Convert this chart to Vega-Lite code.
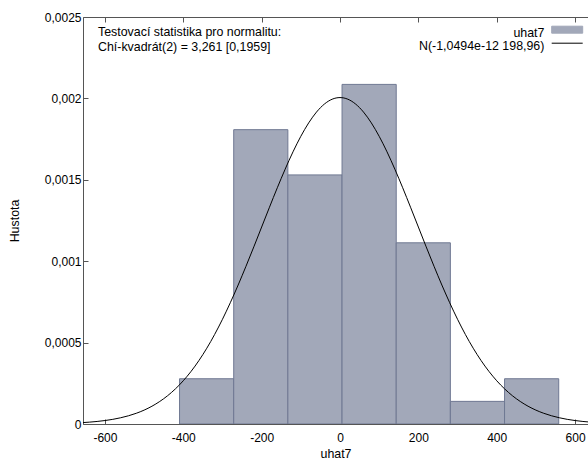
{
  "$schema": "https://vega.github.io/schema/vega-lite/v6.json",
  "width": 505,
  "height": 407,
  "autosize": {"type": "none"},
  "padding": {"left": 83, "top": 17, "right": 0, "bottom": 37},
  "config": {
    "view": {"stroke": null},
    "font": "Liberation Sans",
    "axis": {
      "domainColor": "#555555",
      "tickColor": "#555555",
      "labelColor": "#000000",
      "titleColor": "#000000",
      "labelFont": "Liberation Sans",
      "titleFont": "Liberation Sans",
      "labelFontSize": 12,
      "titleFontSize": 12.4,
      "titleFontWeight": "normal",
      "grid": false,
      "tickSize": -5
    }
  },
  "title": {
    "text": ["Testovací statistika pro normalitu:", "Chí-kvadrát(2) = 3,261 [0,1959]"],
    "anchor": "start",
    "frame": "group",
    "baseline": "top",
    "offset": -9,
    "dx": 15,
    "dy": 33.5,
    "fontSize": 12.4,
    "fontWeight": "normal",
    "font": "Liberation Sans",
    "color": "#000000",
    "lineHeight": 15.5
  },
  "datasets": {
    "bins": [
      {"lo": -409.6, "hi": -271.3, "density": 0.000278},
      {"lo": -271.3, "hi": -133.1, "density": 0.001808},
      {"lo": -133.1, "hi": 5.2, "density": 0.00153},
      {"lo": 5.2, "hi": 143.5, "density": 0.002086},
      {"lo": 143.5, "hi": 281.7, "density": 0.001113},
      {"lo": 281.7, "hi": 420.0, "density": 0.000139},
      {"lo": 420.0, "hi": 558.3, "density": 0.000278}
    ],
    "curve": [
      {"x": -660, "y": 0.0000082},
      {"x": -640, "y": 0.0000114},
      {"x": -620, "y": 0.0000156},
      {"x": -600, "y": 0.0000213},
      {"x": -580, "y": 0.0000286},
      {"x": -560, "y": 0.0000382},
      {"x": -540, "y": 0.0000504},
      {"x": -520, "y": 0.0000659},
      {"x": -500, "y": 0.0000852},
      {"x": -480, "y": 0.0001092},
      {"x": -460, "y": 0.0001385},
      {"x": -440, "y": 0.0001738},
      {"x": -420, "y": 0.0002160},
      {"x": -400, "y": 0.0002657},
      {"x": -380, "y": 0.0003236},
      {"x": -360, "y": 0.0003901},
      {"x": -340, "y": 0.0004655},
      {"x": -320, "y": 0.0005500},
      {"x": -300, "y": 0.0006433},
      {"x": -280, "y": 0.0007449},
      {"x": -260, "y": 0.0008537},
      {"x": -240, "y": 0.0009687},
      {"x": -220, "y": 0.0010880},
      {"x": -200, "y": 0.0012099},
      {"x": -180, "y": 0.0013317},
      {"x": -160, "y": 0.0014511},
      {"x": -140, "y": 0.0015654},
      {"x": -120, "y": 0.0016717},
      {"x": -100, "y": 0.0017672},
      {"x": -80, "y": 0.0018494},
      {"x": -60, "y": 0.0019160},
      {"x": -40, "y": 0.0019650},
      {"x": -20, "y": 0.0019950},
      {"x": 0, "y": 0.0020051},
      {"x": 20, "y": 0.0019950},
      {"x": 40, "y": 0.0019650},
      {"x": 60, "y": 0.0019160},
      {"x": 80, "y": 0.0018494},
      {"x": 100, "y": 0.0017672},
      {"x": 120, "y": 0.0016717},
      {"x": 140, "y": 0.0015654},
      {"x": 160, "y": 0.0014511},
      {"x": 180, "y": 0.0013317},
      {"x": 200, "y": 0.0012099},
      {"x": 220, "y": 0.0010880},
      {"x": 240, "y": 0.0009687},
      {"x": 260, "y": 0.0008537},
      {"x": 280, "y": 0.0007449},
      {"x": 300, "y": 0.0006433},
      {"x": 320, "y": 0.0005500},
      {"x": 340, "y": 0.0004655},
      {"x": 360, "y": 0.0003901},
      {"x": 380, "y": 0.0003236},
      {"x": 400, "y": 0.0002657},
      {"x": 420, "y": 0.0002160},
      {"x": 440, "y": 0.0001738},
      {"x": 460, "y": 0.0001385},
      {"x": 480, "y": 0.0001092},
      {"x": 500, "y": 0.0000852},
      {"x": 520, "y": 0.0000659},
      {"x": 540, "y": 0.0000504},
      {"x": 560, "y": 0.0000382},
      {"x": 580, "y": 0.0000286},
      {"x": 600, "y": 0.0000213},
      {"x": 620, "y": 0.0000156},
      {"x": 640, "y": 0.0000114},
      {"x": 660, "y": 0.0000082}
    ]
  },
  "layer": [
    {
      "data": {"name": "bins"},
      "mark": {"type": "rect", "stroke": "#6f7892", "strokeWidth": 1, "clip": true},
      "encoding": {
        "x": {
          "field": "lo", "type": "quantitative",
          "scale": {"domain": [-656, 633], "nice": false, "zero": false},
          "axis": {
            "orient": "bottom",
            "values": [-600, -400, -200, 0, 200, 400, 600],
            "labelExpr": "replace(datum.value + '', '.', ',')",
            "labelPadding": 13,
            "title": "uhat7",
            "titlePadding": 4
          }
        },
        "x2": {"field": "hi"},
        "y": {
          "field": "density", "type": "quantitative",
          "scale": {"domain": [0, 0.0025], "nice": false},
          "axis": {
            "values": [0, 0.0005, 0.001, 0.0015, 0.002, 0.0025],
            "labelExpr": "replace(datum.value + '', '.', ',')",
            "labelPadding": 7,
            "title": "Hustota",
            "titlePadding": 23
          }
        },
        "y2": {"datum": 0},
        "color": {
          "datum": "uhat7",
          "type": "nominal",
          "scale": {"domain": ["uhat7", "N(-1,0494e-12 198,96)"], "range": ["#a2a8b9", "#000000"]},
          "legend": {
            "title": null,
            "orient": "none",
            "legendX": 478,
            "legendY": 9.5,
            "padding": 0,
            "rowPadding": -7,
            "labelAlign": "right",
            "labelOffset": -29,
            "labelFontSize": 12.4,
            "labelFont": "Liberation Sans",
            "labelColor": "#000000",
            "symbolOffset": 0,
            "symbolSize": 100,
            "encode": {
              "symbols": {
                "update": {
                  "shape": {"signal": "datum.value === 'uhat7' ? 'M-3.1,-1.3H3.1V0.1H-3.1Z' : 'M-3.1,-0.5H3.1'"},
                  "size": {"value": 100},
                  "fill": {"signal": "datum.value === 'uhat7' ? '#a2a8b9' : 'transparent'"},
                  "stroke": {"signal": "datum.value === 'uhat7' ? '#6f7892' : '#000000'"},
                  "strokeWidth": {"value": 1},
                  "opacity": {"value": 1},
                  "fillOpacity": {"value": 1}
                }
              }
            }
          }
        }
      }
    },
    {
      "data": {"name": "curve"},
      "mark": {"type": "line", "strokeWidth": 1, "interpolate": "monotone", "clip": true},
      "encoding": {
        "x": {
          "field": "x", "type": "quantitative",
          "axis": {
            "orient": "top",
            "values": [-600, -400, -200, 0, 200, 400, 600],
            "labels": false,
            "title": null
          }
        },
        "y": {"field": "y", "type": "quantitative"},
        "color": {
          "datum": "N(-1,0494e-12 198,96)",
          "type": "nominal",
          "legend": {
            "title": null,
            "orient": "none",
            "legendX": 478,
            "legendY": 9.5,
            "padding": 0,
            "rowPadding": -7,
            "labelAlign": "right",
            "labelOffset": -29,
            "labelFontSize": 12.4,
            "labelFont": "Liberation Sans",
            "labelColor": "#000000",
            "symbolOffset": 0,
            "symbolSize": 100,
            "encode": {
              "symbols": {
                "update": {
                  "shape": {"signal": "datum.value === 'uhat7' ? 'M-3.1,-1.3H3.1V0.1H-3.1Z' : 'M-3.1,-0.5H3.1'"},
                  "size": {"value": 100},
                  "fill": {"signal": "datum.value === 'uhat7' ? '#a2a8b9' : 'transparent'"},
                  "stroke": {"signal": "datum.value === 'uhat7' ? '#6f7892' : '#000000'"},
                  "strokeWidth": {"value": 1},
                  "opacity": {"value": 1},
                  "fillOpacity": {"value": 1}
                }
              }
            }
          }
        }
      }
    }
  ],
  "resolve": {"axis": {"x": "independent"}}
}
